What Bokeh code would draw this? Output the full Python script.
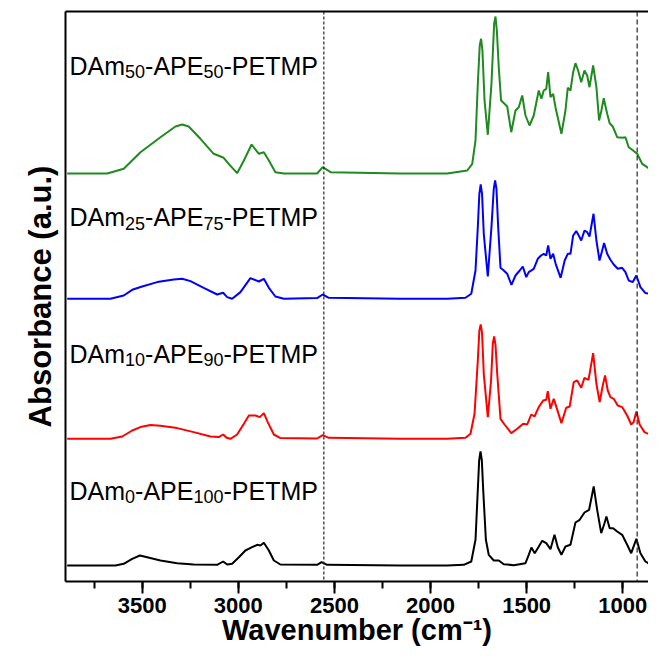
from bokeh.plotting import figure
from bokeh.models import Range1d, FixedTicker, LinearAxis, Span, Label
from bokeh.embed import file_html
from bokeh.resources import INLINE

# ---------------- data (absorbance in arbitrary units) ----------------
wn_black = [3890, 3639, 3596, 3552, 3512, 3474, 3405, 3318, 3232, 3110, 3079, 3058, 3032, 2997,
            2963, 2928, 2902, 2885, 2867, 2841, 2815, 2781, 2590, 2567, 2538, 2156, 1913, 1827,
            1788, 1766, 1754, 1747, 1740, 1733, 1726, 1712, 1697, 1671, 1645, 1619, 1567, 1506,
            1489, 1475, 1458, 1442, 1419, 1398, 1376, 1355, 1338, 1319, 1298, 1272, 1246, 1224,
            1199, 1175, 1151, 1133, 1112, 1095, 1085, 1068, 1050, 1029, 1003, 977, 956, 929,
            908, 882, 847, 787]
ab_black = [0, 0, 1.7, 6.7, 10, 8.3, 5, 2.3, 1, 0.7, 4, 1, 1.7, 8.3,
            15, 18.3, 20.7, 20, 22.7, 15, 5, 1, 0.7, 3.3, 0.7, 0, 0, 0.7,
            4, 25.7, 75.7, 105, 114, 105, 75.7, 25.7, 10.7, 5, 5, 1.3, 0.3, 2.3,
            10.7, 18, 12.3, 17.3, 24.7, 22.3, 16.3, 30.7, 18.3, 10.7, 19, 20.7, 43, 45.7,
            53, 55.7, 79, 55.7, 32.3, 42.3, 49, 37.3, 37.3, 34, 30.7, 20.7, 12.3, 26.7,
            12.3, 4, 0, 0]

wn_red = [3890, 3665, 3604, 3552, 3509, 3457, 3405, 3318, 3232, 3145, 3102, 3079, 3061, 3041,
          3006, 2971, 2945, 2911, 2888, 2867, 2847, 2815, 2781, 2590, 2561, 2529, 2156, 1913,
          1818, 1792, 1771, 1754, 1746, 1739, 1732, 1723, 1702, 1685, 1676, 1669, 1662, 1653,
          1636, 1615, 1580, 1549, 1518, 1497, 1476, 1459, 1437, 1414, 1398, 1390, 1376, 1359,
          1345, 1319, 1294, 1276, 1255, 1237, 1216, 1199, 1178, 1154, 1137, 1120, 1104, 1092,
          1078, 1064, 1047, 1026, 1003, 977, 956, 943, 929, 912, 887, 860, 839, 813, 787]
ab_red = [0, 0, 2.3, 8.3, 11.7, 13.7, 13, 10.7, 6.7, 2.3, 1.7, 4.3, 1, 0,
          4.3, 15, 23.3, 23.3, 21.7, 25.7, 16.7, 4.3, 0.7, 0.3, 3.7, 1, 0, 0,
          1, 5, 25, 78.3, 108, 114.3, 106, 65, 21.7, 58.3, 95, 102.3, 94, 65,
          20, 14.3, 5.7, 10, 15, 14.3, 24.3, 22.3, 31.7, 38.3, 39, 47.7, 30, 40,
          31.7, 15.7, 31, 32.3, 56.7, 58.3, 51, 61, 59, 85.7, 55, 36.7, 53.3, 63.3,
          48.3, 41.7, 40, 33.3, 31.7, 23.3, 14.3, 16.7, 27.3, 14.3, 6.7, 4.3, 0.7, 2.3, 1.7]

wn_blue = [3890, 3665, 3596, 3552, 3500, 3422, 3336, 3292, 3249, 3180, 3110, 3079, 3058, 3032,
           2989, 2937, 2893, 2867, 2841, 2807, 2763, 2590, 2561, 2529, 2156, 1913, 1818, 1788,
           1766, 1754, 1746, 1739, 1732, 1723, 1702, 1683, 1671, 1664, 1657, 1648, 1636, 1619,
           1601, 1579, 1558, 1536, 1520, 1502, 1489, 1463, 1442, 1425, 1411, 1398, 1388, 1376,
           1362, 1349, 1323, 1302, 1286, 1272, 1258, 1242, 1229, 1216, 1199, 1185, 1173, 1152,
           1137, 1121, 1109, 1097, 1081, 1064, 1047, 1026, 1003, 986, 969, 948, 929, 908,
           882, 860, 839, 813, 787]
ab_blue = [0, 0, 3.3, 9, 12.3, 16.7, 19.3, 20, 17.7, 11, 4.3, 6, 1.7, 0,
           6.7, 20.7, 17.3, 20, 11, 2.3, 0, 0.7, 4.3, 1, 0, 0, 1, 5,
           28.3, 71.7, 105, 114.3, 105, 65, 22.3, 71.7, 110, 118.3, 110, 71.7, 31, 28.3,
           25, 14, 23.3, 28.3, 32.3, 21.7, 26.7, 30, 40, 43.3, 45, 43.3, 53.3, 40,
           45, 35, 21, 38.3, 45, 45, 63.3, 67.7, 63.3, 58.3, 68.3, 66.7, 62.3, 85,
           58.3, 38.3, 46.7, 55.7, 45, 39, 34.3, 30, 31, 26.7, 18.3, 16.7, 23.3, 11.7,
           5.7, 5, 0.7, 5.7, 3.3]

wn_green = [3890, 3682, 3596, 3509, 3405, 3327, 3292, 3258, 3197, 3128, 3076, 3050, 3006, 2971,
            2931, 2893, 2867, 2841, 2807, 2763, 2590, 2561, 2520, 2156, 1913, 1809, 1783, 1766,
            1754, 1744, 1737, 1730, 1719, 1702, 1683, 1669, 1662, 1655, 1645, 1633, 1615, 1601,
            1580, 1558, 1541, 1523, 1506, 1485, 1463, 1437, 1423, 1411, 1398, 1388, 1376, 1362,
            1350, 1319, 1298, 1286, 1272, 1258, 1246, 1232, 1216, 1199, 1185, 1173, 1154, 1137,
            1123, 1111, 1099, 1081, 1068, 1052, 1029, 1003, 986, 969, 951, 925, 899, 873,
            847, 813, 787]
ab_green = [0, 0, 4.7, 21.3, 36.3, 47, 49, 47, 34.7, 19.7, 15.7, 9.7, 0.3, 13,
            29, 19.7, 21.3, 13, 1.3, 0, 0, 6.3, 1.3, 0, 0, 3, 9.7, 33,
            89.7, 128, 134.7, 123, 73, 38.7, 89.7, 149.7, 157, 143, 106.3, 73, 69.7, 67,
            41.3, 63, 66.3, 78, 58, 48, 58, 83, 74.7, 83, 84.7, 101.3, 76.3, 79.7,
            66.3, 39.7, 63, 85.7, 83, 101.3, 110.3, 103, 91.3, 103, 98, 86.3, 108, 86.3,
            53, 63, 75.3, 59.7, 50.3, 47, 36.3, 35.7, 36.3, 26.3, 23.7, 19.7, 9.7, 6.3,
            3, 16.3, 9.7]

series_offsets = [17, 143.7, 283.7, 409]          # vertical stacking offsets (black, red, blue, green)
series_colors = ["#000000", "#ff0000", "#0000ff", "#1f8a1f"]
sample_labels = [
    ["DAm", "0", "-APE", "100", "-PETMP"],
    ["DAm", "10", "-APE", "90", "-PETMP"],
    ["DAm", "25", "-APE", "75", "-PETMP"],
    ["DAm", "50", "-APE", "50", "-PETMP"],
]
label_y = [92, 229, 365.3, 517]
label_x = 3878
marker_lines = [2555, 925]
x_ticks = [1000, 1500, 2000, 2500, 3000, 3500]
x_minor = [750, 1000, 1250, 1500, 1750, 2000, 2250, 2500, 2750, 3000, 3250, 3500, 3750]

FONT = "Liberation Sans"

# approximate Arial/Liberation advance widths (em)
CW = {'D': .722, 'A': .667, 'm': .833, '-': .333, 'P': .667, 'E': .667, 'T': .611, 'M': .833,
      '0': .556, '1': .556, '2': .556, '5': .556, '7': .556, '9': .556}


def width(s, size):
    return sum(CW[c] for c in s) * size


p = figure(width=648, height=650, output_backend="svg", toolbar_location=None,
           x_range=Range1d(3899, 866), y_range=Range1d(1, 571),
           min_border_left=65, min_border_right=0, min_border_top=11, min_border_bottom=69)
p.outline_line_color = None
p.grid.visible = False
p.background_fill_color = "white"
p.border_fill_color = "white"

# bottom axis
xa = p.xaxis[0]
xa.ticker = FixedTicker(ticks=x_ticks, minor_ticks=x_minor)
xa.major_tick_out = 12
xa.major_tick_in = 0
xa.minor_tick_out = 7
xa.minor_tick_in = 0
xa.major_tick_line_width = 2
xa.minor_tick_line_width = 2
xa.axis_line_width = 2
xa.major_label_text_font = FONT
xa.major_label_text_font_style = "bold"
xa.major_label_text_font_size = "22px"
xa.major_label_text_color = "black"
xa.major_label_standoff = 4
xa.axis_label = "Wavenumber (cm\u207b\u00b9)"
xa.axis_label_text_font = FONT
xa.axis_label_text_font_style = "bold"
xa.axis_label_text_font_size = "29px"
xa.axis_label_text_color = "black"
xa.axis_label_standoff = -2

# left axis (no ticks)
ya = p.yaxis[0]
ya.ticker = FixedTicker(ticks=[])
ya.major_tick_out = 0
ya.minor_tick_out = 0
ya.major_label_text_font_size = "0px"
ya.axis_line_width = 2
ya.axis_label = "Absorbance (a.u.)"
ya.axis_label_text_font = FONT
ya.axis_label_text_font_style = "bold"
ya.axis_label_text_font_size = "31px"
ya.axis_label_text_color = "black"
ya.axis_label_standoff = 8

# top frame line
top = LinearAxis(ticker=FixedTicker(ticks=[]), major_tick_out=0, minor_tick_out=0,
                 major_label_text_font_size="0px", axis_line_width=2, major_label_standoff=0)
p.add_layout(top, "above")

for loc, dash in zip(marker_lines, ["3 2", "5 3"]):
    p.add_layout(Span(location=loc, dimension="height", line_color="#222222",
                      line_dash=dash, line_width=1.2))

series = [(wn_black, ab_black), (wn_red, ab_red), (wn_blue, ab_blue), (wn_green, ab_green)]
for (wn, ab), off, col in zip(series, series_offsets, series_colors):
    p.line(wn, [a + off for a in ab], line_color=col, line_width=2)

# sample names with subscripts
for parts, y in zip(sample_labels, label_y):
    dx = 0.0
    for i, t in enumerate(parts):
        sub = (i % 2 == 1)
        size = 18 if sub else 25
        p.add_layout(Label(x=label_x, y=y, x_offset=dx, y_offset=-6 if sub else 0, text=t,
                           text_font=FONT, text_font_size=f"{size}px", text_color="black",
                           text_baseline="alphabetic", text_align="left"))
        dx += width(t, size)

open("out.html", "w").write(file_html(p, INLINE))
